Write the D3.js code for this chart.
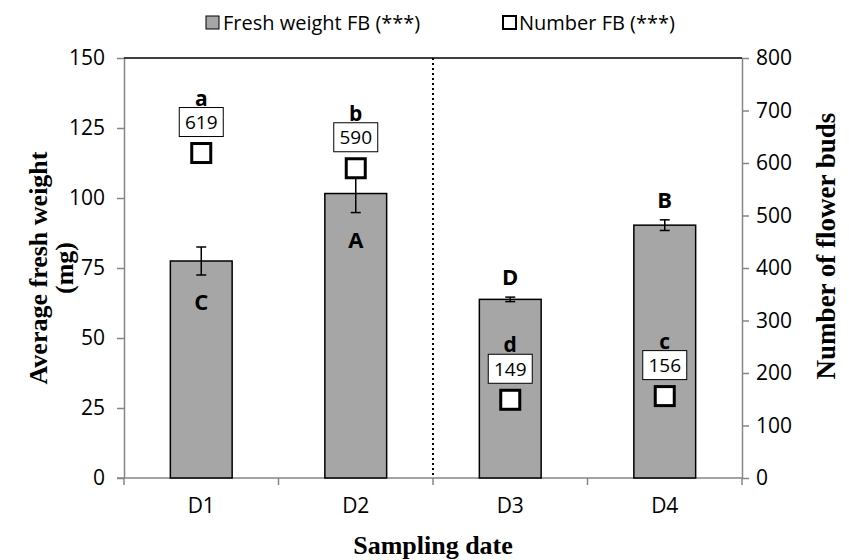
<!DOCTYPE html>
<html>
<head>
<meta charset="utf-8">
<script src="https://cdn.jsdelivr.net/npm/d3@7"></script>
<style>
  html, body { margin: 0; padding: 0; background: #fff; }
  svg { display: block; }
  .tick text { font-family: "Open Sans", sans-serif; }
</style>
</head>
<body>
<svg id="chart" width="849" height="560"></svg>
<script>
// Sampling dates
const categories = ["D1", "D2", "D3", "D4"];
// Average fresh weight of flower buds (mg) with standard error
const freshWeight = [77.5, 101.6, 63.8, 90.3];
const freshWeightErr = [5.0, 6.8, 0.8, 1.9];
const weightLetters = ["C", "A", "D", "B"];
const weightLetterSide = ["inside", "inside", "above", "above"];
// Number of flower buds
const budNumber = [619, 590, 149, 156];
const budLetters = ["a", "b", "d", "c"];
// Axis ticks
const leftTicks = [0, 25, 50, 75, 100, 125, 150];
const rightTicks = [0, 100, 200, 300, 400, 500, 600, 700, 800];
const legendLabels = ["Fresh weight FB (***)", "Number FB (***)"];

const svg = d3.select("#chart");
const plot = { left: 124, right: 742, top: 58, bottom: 478 };
const axisGray = "#868686";
const barFill = "#a6a6a6";
const sans = "'Open Sans', sans-serif";
const serif = "'Liberation Serif', 'Times New Roman', serif";

const x = d3.scaleBand().domain(categories)
  .range([plot.left, plot.right]).paddingInner(0.6).paddingOuter(0.3);
const yL = d3.scaleLinear().domain([0, 150]).range([plot.bottom, plot.top]);
const yR = d3.scaleLinear().domain([0, 800]).range([plot.bottom, plot.top]);
const cx = d => x(d) + x.bandwidth() / 2;

// Left axis
const gL = svg.append("g").attr("transform", `translate(${plot.left},0)`)
  .call(d3.axisLeft(yL).tickValues(leftTicks).tickSize(7).tickSizeOuter(0).tickPadding(12));
// Right axis
const gR = svg.append("g").attr("transform", `translate(${plot.right},0)`)
  .call(d3.axisRight(yR).tickValues(rightTicks).tickSize(7).tickSizeOuter(0).tickPadding(7));
[gL, gR].forEach(g => {
  g.select(".domain").attr("stroke", axisGray).attr("stroke-width", 1.5);
  g.selectAll(".tick line").attr("stroke", axisGray).attr("stroke-width", 1.5);
  g.selectAll(".tick text").attr("fill", "#000").style("font-size", "21px");
});

// Bottom axis: labels centred on each date, ticks at category boundaries
const gB = svg.append("g").attr("transform", `translate(0,${plot.bottom})`)
  .call(d3.axisBottom(x).tickSize(0).tickPadding(20));
gB.select(".domain").remove();
gB.append("line").attr("x1", plot.left - 7).attr("x2", plot.right)
  .attr("stroke", axisGray).attr("stroke-width", 1.5);
gB.selectAll(".bound").data(d3.range(categories.length + 1)).join("line")
  .attr("x1", i => plot.left + i * x.step())
  .attr("x2", i => plot.left + i * x.step())
  .attr("y1", 0).attr("y2", 7)
  .attr("stroke", axisGray).attr("stroke-width", 1.5);
gB.selectAll(".tick text").attr("fill", "#000").style("font-size", "21px");

// Top border of plot area
svg.append("line").attr("x1", plot.left).attr("x2", plot.right)
  .attr("y1", plot.top).attr("y2", plot.top)
  .attr("stroke", "#000").attr("stroke-width", 1.5);

// Dotted separator between D2 and D3
const midX = (plot.left + plot.right) / 2;
svg.append("line").attr("x1", midX).attr("x2", midX)
  .attr("y1", plot.top).attr("y2", plot.bottom)
  .attr("stroke", "#000").attr("stroke-width", 2).attr("stroke-dasharray", "2,3");

// Bars
svg.selectAll(".bar").data(categories).join("rect")
  .attr("x", d => x(d)).attr("width", x.bandwidth())
  .attr("y", (d, i) => yL(freshWeight[i]))
  .attr("height", (d, i) => yL(0) - yL(freshWeight[i]))
  .attr("fill", barFill).attr("stroke", "#000").attr("stroke-width", 1.5);

// Error bars
const eb = svg.append("g").attr("stroke", "#000").attr("stroke-width", 1.5);
categories.forEach((d, i) => {
  const hi = yL(freshWeight[i] + freshWeightErr[i]);
  const lo = yL(freshWeight[i] - freshWeightErr[i]);
  eb.append("line").attr("x1", cx(d)).attr("x2", cx(d)).attr("y1", hi).attr("y2", lo);
  eb.append("line").attr("x1", cx(d) - 5).attr("x2", cx(d) + 5).attr("y1", hi).attr("y2", hi);
  eb.append("line").attr("x1", cx(d) - 5).attr("x2", cx(d) + 5).attr("y1", lo).attr("y2", lo);
});

// Significance letters for fresh weight
svg.selectAll(".wl").data(categories).join("text")
  .attr("x", d => cx(d))
  .attr("y", (d, i) => weightLetterSide[i] === "inside"
    ? yL(freshWeight[i] - freshWeightErr[i]) + 26
    : yL(freshWeight[i] + freshWeightErr[i]) - 21)
  .attr("text-anchor", "middle").attr("dominant-baseline", "central")
  .style("font-family", sans).style("font-weight", "bold").style("font-size", "22px")
  .text((d, i) => weightLetters[i]);

// Bud number markers
const sq = 19;
svg.selectAll(".mk").data(categories).join("rect")
  .attr("x", d => cx(d) - sq / 2).attr("y", (d, i) => yR(budNumber[i]) - sq / 2)
  .attr("width", sq).attr("height", sq)
  .attr("fill", "#fff").attr("stroke", "#000").attr("stroke-width", 3);

// Value boxes above markers
const boxW = 44, boxH = 29;
const boxCY = i => yR(budNumber[i]) - 31;
svg.selectAll(".vb").data(categories).join("rect")
  .attr("x", d => cx(d) - boxW / 2).attr("y", (d, i) => boxCY(i) - boxH / 2)
  .attr("width", boxW).attr("height", boxH)
  .attr("fill", "#fff").attr("stroke", "#000").attr("stroke-width", 1);
svg.selectAll(".vt").data(categories).join("text")
  .attr("x", d => cx(d)).attr("y", (d, i) => boxCY(i))
  .attr("text-anchor", "middle").attr("dominant-baseline", "central")
  .style("font-family", sans).style("font-size", "19px")
  .text((d, i) => budNumber[i]);
// Letters sit just above the boxes (baseline on the box's top edge)
svg.selectAll(".bl").data(categories).join("text")
  .attr("x", d => cx(d)).attr("y", (d, i) => boxCY(i) - boxH / 2 - 2)
  .attr("text-anchor", "middle")
  .style("font-family", sans).style("font-weight", "bold").style("font-size", "21px")
  .text((d, i) => budLetters[i]);

// Axis titles
svg.append("text")
  .attr("transform", `translate(38,268) rotate(-90)`)
  .attr("text-anchor", "middle").attr("dominant-baseline", "central")
  .style("font-family", serif).style("font-weight", "bold").style("font-size", "26px")
  .text("Average fresh weight");
svg.append("text")
  .attr("transform", `translate(64,268) rotate(-90)`)
  .attr("text-anchor", "middle").attr("dominant-baseline", "central")
  .style("font-family", serif).style("font-weight", "bold").style("font-size", "26px")
  .text("(mg)");
svg.append("text")
  .attr("transform", `translate(826,246) rotate(-90)`)
  .attr("text-anchor", "middle").attr("dominant-baseline", "central")
  .style("font-family", serif).style("font-weight", "bold").style("font-size", "27px")
  .text("Number of flower buds");
svg.append("text")
  .attr("x", midX).attr("y", 545)
  .attr("text-anchor", "middle").attr("dominant-baseline", "central")
  .style("font-family", serif).style("font-weight", "bold").style("font-size", "26px")
  .text("Sampling date");

// Legend
const lg = svg.append("g");
lg.append("rect").attr("x", 206).attr("y", 16).attr("width", 13).attr("height", 13)
  .attr("fill", barFill).attr("stroke", "#000").attr("stroke-width", 1);
lg.append("text").attr("x", 223).attr("y", 22).attr("dominant-baseline", "central")
  .style("font-family", sans).style("font-size", "20px").text(legendLabels[0]);
lg.append("rect").attr("x", 503).attr("y", 16).attr("width", 13).attr("height", 13)
  .attr("fill", "#fff").attr("stroke", "#000").attr("stroke-width", 2);
lg.append("text").attr("x", 519).attr("y", 22).attr("dominant-baseline", "central")
  .style("font-family", sans).style("font-size", "20px").text(legendLabels[1]);
</script>
</body>
</html>
